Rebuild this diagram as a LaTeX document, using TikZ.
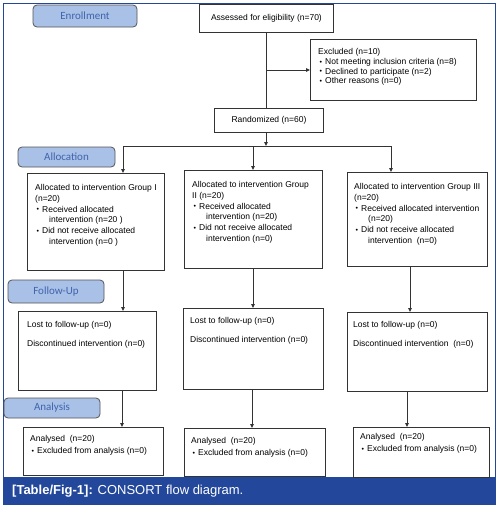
\documentclass[tikz,border=0pt]{standalone}
\usepackage{fontspec}
\setmainfont{Liberation Sans}
\newfontfamily\stagefont{Carlito}
\usetikzlibrary{arrows.meta}
\definecolor{frameblue}{HTML}{23479A}
\definecolor{stagefill}{HTML}{A9C1E6}
\definecolor{stagetext}{HTML}{3F63AE}
\definecolor{stageline}{HTML}{555555}
\definecolor{linegray}{HTML}{333333}
\newcommand\bul{\raisebox{0.4pt}{\fontsize{7}{7}\selectfont\textbullet}}
\begin{document}
\begin{tikzpicture}[x=1pt,y=-1pt,
  stage/.style={draw=stageline, fill=stagefill, rounded corners=4pt, line width=0.8pt,
    font=\stagefont\fontsize{11}{13}\selectfont, text=stagetext, inner sep=0pt},
  box/.style={draw=linegray, line width=0.9pt, inner sep=0pt, anchor=north west},
  btext/.style={inner sep=0pt, align=left, anchor=north west, text=black, yshift=-2.5pt,
    font=\fontsize{8.5}{10.7}\selectfont},
  ctext/.style={inner sep=0pt, font=\fontsize{8.5}{10.7}\selectfont},
  arr/.style={-{Triangle[length=4pt,width=3.6pt]}, draw=linegray, line width=1pt},
  conn/.style={draw=linegray, line width=1pt}]
\useasboundingbox (0,0) rectangle (498,506);
% frame and caption
\fill[white] (0,0) rectangle (498,506);
\draw[frameblue, line width=1pt] (3,478) -- (3,3) -- (495,3) -- (495,478);
\fill[frameblue] (2.5,477) rectangle (495.5,505);
\node[anchor=west, inner sep=0pt, text=white, font=\fontsize{13}{15}\selectfont] (cap) at (12,491)
  {\textbf{[Table/Fig-1]:} CONSORT flow diagram.};

% stage labels
\node[stage, minimum width=104pt, minimum height=22pt] (senr) at (85,16) {Enrollment};
\node[stage, minimum width=97pt, minimum height=20pt] (salloc) at (66.5,157) {Allocation};
\node[stage, minimum width=96pt, minimum height=23pt] (sfu) at (56,291.5) {Follow-Up};
\node[stage, minimum width=96pt, minimum height=20pt] (san) at (52,408) {Analysis};

% enrollment boxes
\node[box, minimum width=134pt, minimum height=28pt] (assess) at (199,4) {};
\node[ctext] (assesst) at (assess.center) {Assessed for eligibility (n=70)};
\node[box, minimum width=166pt, minimum height=61pt] (excl) at (310,39) {};
\node[btext, font=\fontsize{8.5}{9.7}\selectfont] (exclt) at (318,46)
  {Excluded (n=10)\\
   \hspace*{1.5pt}\bul\hspace*{3pt}Not meeting inclusion criteria (n=8)\\
   \hspace*{1.5pt}\bul\hspace*{3pt}Declined to participate (n=2)\\
   \hspace*{1.5pt}\bul\hspace*{3pt}Other reasons (n=0)};
\node[box, minimum width=109pt, minimum height=24pt] (rand) at (214,108) {};
\node[ctext] (randt) at (rand.center) {Randomized (n=60)};

% allocation boxes
\node[box, minimum width=137pt, minimum height=97pt] (g1) at (27,173) {};
\node[btext] (g1t) at (35,182)
  {Allocated to intervention Group I\\
   (n=20)\\
   \hspace*{1.5pt}\bul\hspace*{3pt}Received allocated\\
   \hspace*{14pt}intervention (n=20 )\\
   \hspace*{1.5pt}\bul\hspace*{3pt}Did not receive allocated\\
   \hspace*{14pt}intervention (n=0 )};
\node[box, minimum width=138pt, minimum height=98pt] (g2) at (184,170) {};
\node[btext] (g2t) at (192,179)
  {Allocated to intervention Group\\
   II (n=20)\\
   \hspace*{1.5pt}\bul\hspace*{3pt}Received allocated\\
   \hspace*{14pt}intervention (n=20)\\
   \hspace*{1.5pt}\bul\hspace*{3pt}Did not receive allocated\\
   \hspace*{14pt}intervention (n=0)};
\node[box, minimum width=140pt, minimum height=94pt] (g3) at (347,172) {};
\node[btext] (g3t) at (354,181)
  {Allocated to intervention Group III\\
   (n=20)\\
   \hspace*{1.5pt}\bul\hspace*{3pt}Received allocated intervention\\
   \hspace*{14pt}(n=20)\\
   \hspace*{1.5pt}\bul\hspace*{3pt}Did not receive allocated\\
   \hspace*{14pt}intervention\ \ (n=0)};

% follow-up boxes
\node[box, minimum width=138pt, minimum height=79pt] (f1) at (18,311) {};
\node[btext] (f1t) at (27,319) {Lost to follow-up (n=0)\\[8.3pt]Discontinued intervention (n=0)};
\node[box, minimum width=140pt, minimum height=81pt] (f2) at (183,308) {};
\node[btext] (f2t) at (190,315) {Lost to follow-up (n=0)\\[8.3pt]Discontinued intervention (n=0)};
\node[box, minimum width=140pt, minimum height=79pt] (f3) at (347,312) {};
\node[btext] (f3t) at (353,319) {Lost to follow-up (n=0)\\[8.3pt]Discontinued intervention\ \ (n=0)};

% analysis boxes
\node[box, minimum width=140pt, minimum height=48pt] (a1) at (23,427) {};
\node[btext, font=\fontsize{8.5}{12}\selectfont] (a1t) at (30,433)
  {Analysed\ \ (n=20)\\ \hspace*{1.5pt}\bul\hspace*{3pt}Excluded from analysis (n=0)};
\node[box, minimum width=141pt, minimum height=48pt] (a2) at (184,428) {};
\node[btext, font=\fontsize{8.5}{12}\selectfont] (a2t) at (191,435)
  {Analysed\ \ (n=20)\\ \hspace*{1.5pt}\bul\hspace*{3pt}Excluded from analysis (n=0)};
\node[box, minimum width=136pt, minimum height=50pt] (a3) at (353,427) {};
\node[btext, font=\fontsize{8.5}{12}\selectfont] (a3t) at (360,431)
  {Analysed\ \ (n=20)\\ \hspace*{1.5pt}\bul\hspace*{3pt}Excluded from analysis (n=0)};

% connectors
\coordinate (xmain) at (266,0);
\coordinate (branch) at (266,70);
\coordinate (split) at (266,146);
\coordinate (s1) at (123,146);
\coordinate (s2) at (253,146);
\coordinate (s3) at (391,146);
\draw[conn] (assess.south -| xmain) -- (rand.north -| xmain);
\draw[arr] (branch) -- (excl.west |- branch);
\draw[arr] (rand.south -| xmain) -- (split);
\draw[conn] (s1) -- (s3);
\draw[arr] (s1) -- (g1.north -| s1);
\draw[arr] (s2) -- (g2.north -| s2);
\draw[arr] (s3) -- (g3.north -| s3);
\coordinate (d1) at (123,0);
\coordinate (d2) at (253,0);
\coordinate (d3) at (410,0);
\draw[arr] (g1.south -| d1) -- (f1.north -| d1);
\draw[arr] (g2.south -| d2) -- (f2.north -| d2);
\draw[arr] (g3.south -| d3) -- (f3.north -| d3);
\coordinate (e1) at (122,0);
\coordinate (e2) at (252,0);
\coordinate (e3) at (407,0);
\draw[arr] (f1.south -| e1) -- (a1.north -| e1);
\draw[arr] (f2.south -| e2) -- (a2.north -| e2);
\draw[arr] (f3.south -| e3) -- (a3.north -| e3);
\end{tikzpicture}
\end{document}
